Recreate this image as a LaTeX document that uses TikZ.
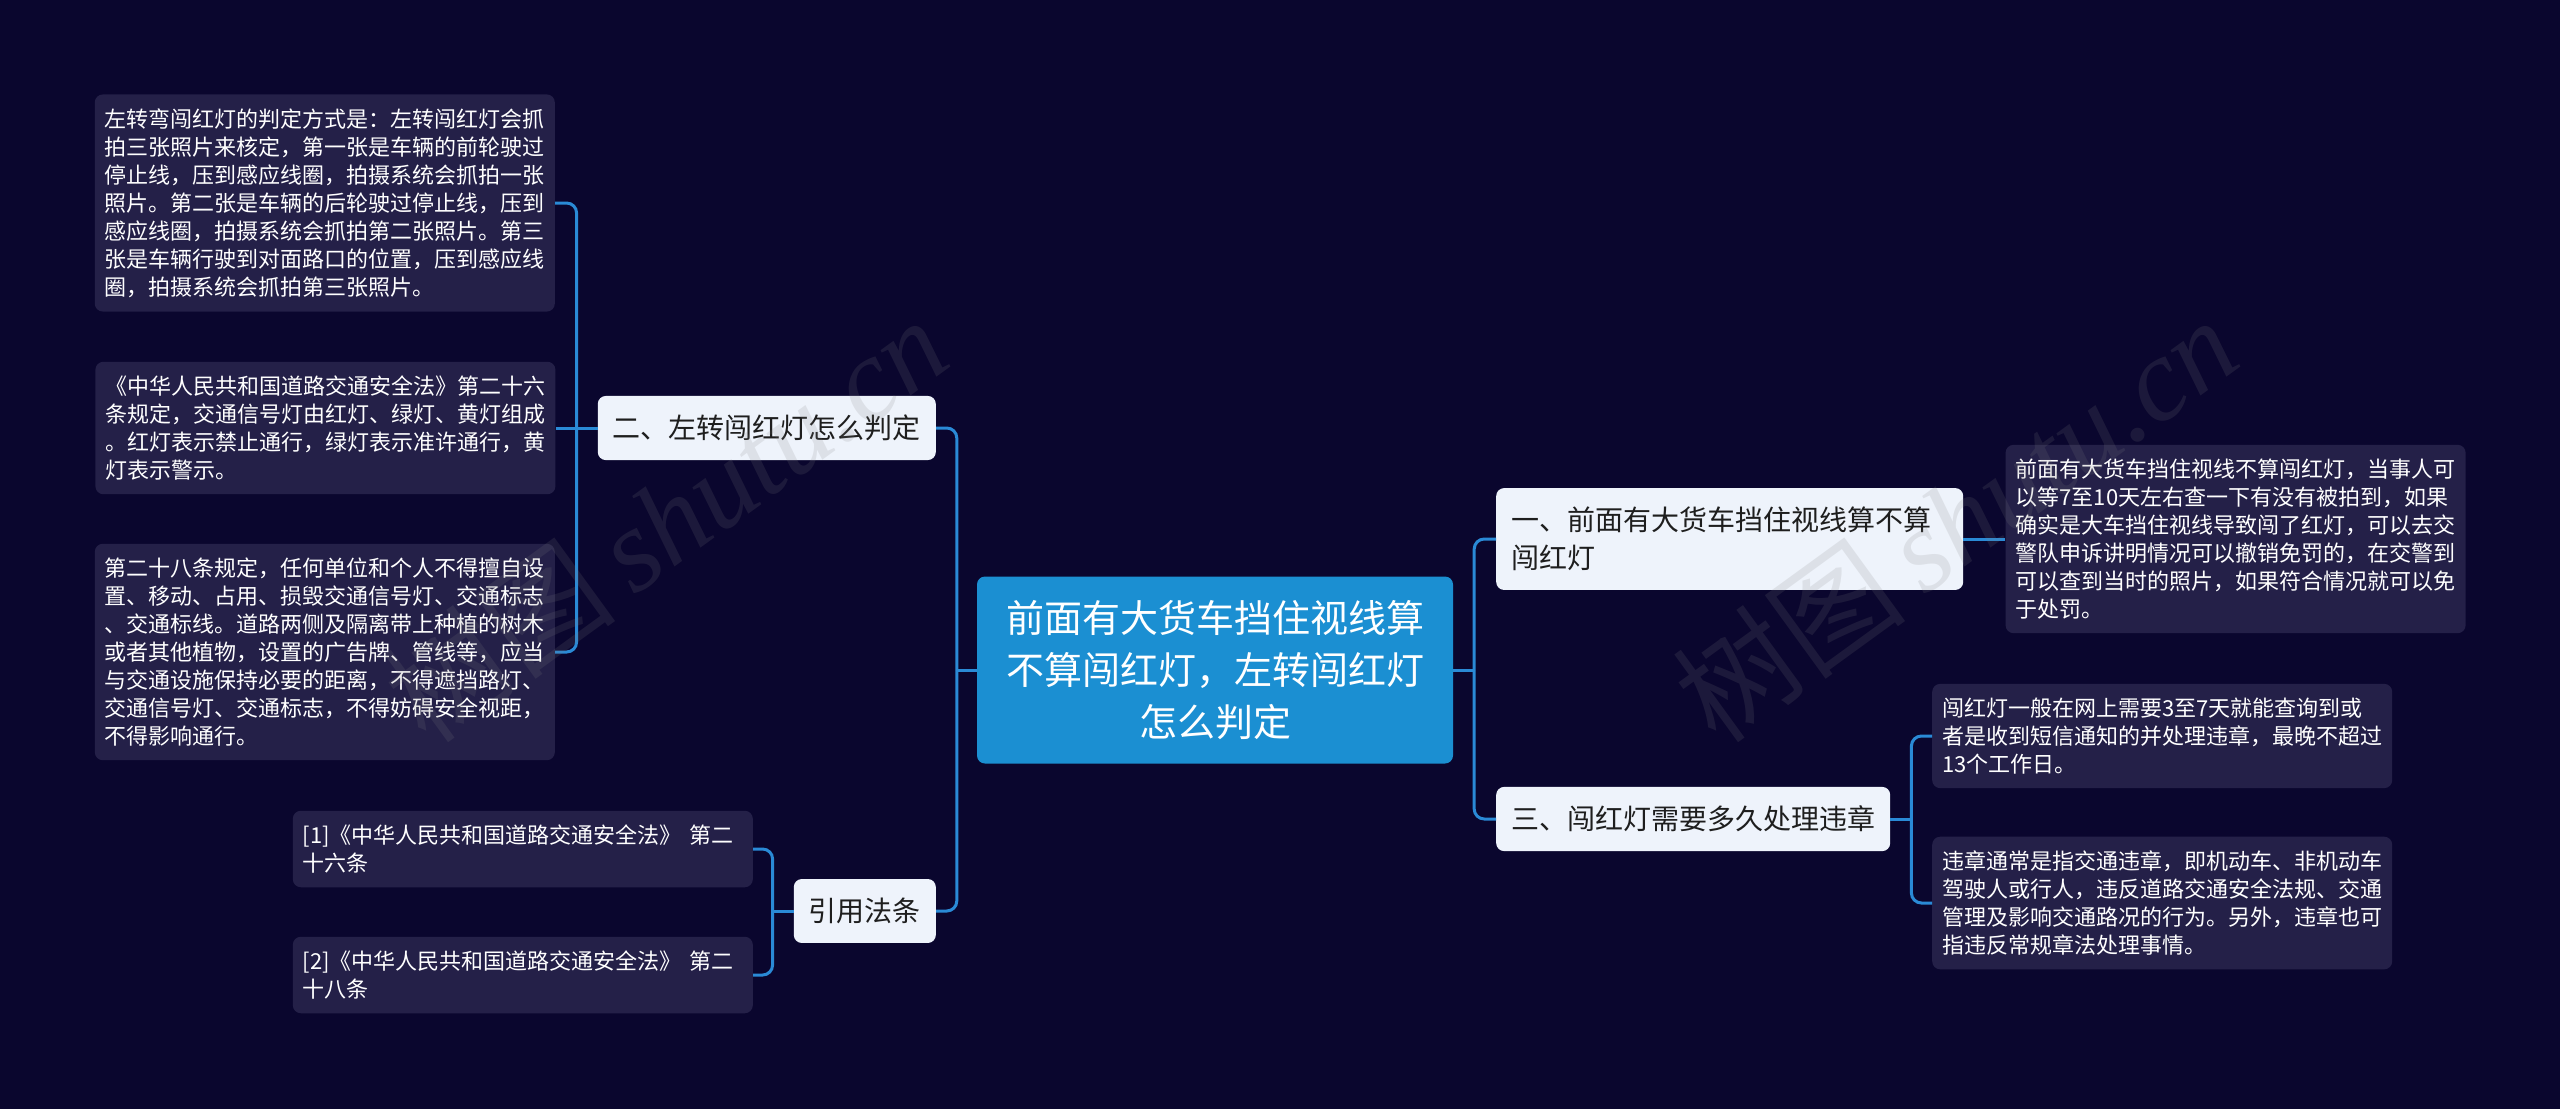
\documentclass[tikz,border=0pt]{standalone}
\usepackage{fontspec}
\setmainfont{Noto Sans CJK SC}
\newfontfamily\wmfont{Liberation Serif}
\usepackage{xcolor}
\definecolor{cBg}{HTML}{0A062E}
\definecolor{cRoot}{HTML}{1B8FD2}
\definecolor{cBranch}{HTML}{EEF3FB}
\definecolor{cLeaf}{HTML}{242048}
\definecolor{cLink}{HTML}{2A8AD6}
\definecolor{cInk}{HTML}{1E1E1E}
\usetikzlibrary{positioning}
\tikzset{
  node-root/.style={fill=cRoot,rounded corners=8pt,text=white,align=center,
    minimum width=476pt,minimum height=187pt,inner sep=0pt,
    font=\fontsize{38}{52}\selectfont},
  node-branch/.style={fill=cBranch,rounded corners=8pt,text=cInk,
    inner xsep=15pt,inner ysep=19pt,font=\fontsize{28}{38}\selectfont},
  node-leaf/.style={fill=cLeaf,rounded corners=8pt,text=white,align=left,
    text width=440pt,inner xsep=10pt,inner ysep=14pt,
    font=\fontsize{22}{28}\selectfont},
  link/.style={draw=cLink,line width=3pt,rounded corners=10pt},
  watermark/.style={text=gray,text opacity=.16,rotate=36,
    font=\fontsize{118}{118}\selectfont},
}

\begin{document}
\begin{tikzpicture}[x=1pt,y=-1pt,node distance=42pt]
  \fill[cBg] (0,0) rectangle (2560,1109);
  \useasboundingbox (0,0) rectangle (2560,1109);

  % 中心主题
  \node[node-root] (root) at (1215,670)
    {前面有大货车挡住视线算\\不算闯红灯，左转闯红灯\\怎么判定};

  % 右侧分支
  \node[node-branch,anchor=west,text width=437pt,align=left] (b1) at (1496,539)
    {一、前面有大货车挡住视线算不算\\闯红灯};
  \node[node-leaf,right=of b1] (r1)
    {前面有大货车挡住视线不算闯红灯，当事人可\\以等7至10天左右查一下有没有被拍到，如果\\确实是大车挡住视线导致闯了红灯，可以去交\\警队申诉讲明情况可以撤销免罚的，在交警到\\可以查到当时的照片，如果符合情况就可以免\\于处罚。};
  \node[node-branch,anchor=west] (b3) at (1496,819) {三、闯红灯需要多久处理违章};
  \node[node-leaf,anchor=west] (r2a) at (1932,736)
    {闯红灯一般在网上需要3至7天就能查询到或\\者是收到短信通知的并处理违章，最晚不超过\\13个工作日。};
  \node[node-leaf,anchor=west] (r2b) at (1932,903)
    {违章通常是指交通违章，即机动车、非机动车\\驾驶人或行人，违反道路交通安全法规、交通\\管理及影响交通路况的行为。另外，违章也可\\指违反常规章法处理事情。};

  % 左侧分支
  \node[node-branch,anchor=east] (b2) at (936,428) {二、左转闯红灯怎么判定};
  \node[node-leaf,anchor=east] (l1) at (555,203)
    {左转弯闯红灯的判定方式是：左转闯红灯会抓\\拍三张照片来核定，第一张是车辆的前轮驶过\\停止线，压到感应线圈，拍摄系统会抓拍一张\\照片。第二张是车辆的后轮驶过停止线，压到\\感应线圈，拍摄系统会抓拍第二张照片。第三\\张是车辆行驶到对面路口的位置，压到感应线\\圈，拍摄系统会抓拍第三张照片。};
  \node[node-leaf,left=of b2] (l2)
    {《中华人民共和国道路交通安全法》第二十六\\条规定，交通信号灯由红灯、绿灯、黄灯组成\\。红灯表示禁止通行，绿灯表示准许通行，黄\\灯表示警示。};
  \node[node-leaf,anchor=east] (l3) at (555,652)
    {第二十八条规定，任何单位和个人不得擅自设\\置、移动、占用、损毁交通信号灯、交通标志\\、交通标线。道路两侧及隔离带上种植的树木\\或者其他植物，设置的广告牌、管线等，应当\\与交通设施保持必要的距离，不得遮挡路灯、\\交通信号灯、交通标志，不得妨碍安全视距，\\不得影响通行。};
  \node[node-branch,anchor=east] (law) at (936,911) {引用法条};
  \node[node-leaf,anchor=east] (ref1) at (753,849)
    {[1]《中华人民共和国道路交通安全法》 第二\\十六条};
  \node[node-leaf,anchor=east] (ref2) at (753,975)
    {[2]《中华人民共和国道路交通安全法》 第二\\十八条};

  % 连线
  \coordinate (jl) at ([xshift=-20pt]root.west);
  \coordinate (jr) at ([xshift=21pt]root.east);
  \coordinate (j2) at ([xshift=-21pt]b2.west);
  \coordinate (j3) at ([xshift=21pt]b3.east);
  \coordinate (jf) at ([xshift=-21pt]law.west);
  \draw[link] (root.west) -- (jl);
  \draw[link] (jl) |- (b2.east);
  \draw[link] (jl) |- (law.east);
  \draw[link] (root.east) -- (jr);
  \draw[link] (jr) |- (b1.west);
  \draw[link] (jr) |- (b3.west);
  \draw[link] (b1.east) -- (r1.west);
  \draw[link] (b3.east) -- (j3);
  \draw[link] (j3) |- (r2a.west);
  \draw[link] (j3) |- (r2b.west);
  \draw[link] (b2.west) -- (l2.east);
  \draw[link] (j2) |- (l1.east);
  \draw[link] (j2) |- (l3.east);
  \draw[link] (law.west) -- (jf);
  \draw[link] (jf) |- (ref1.east);
  \draw[link] (jf) |- (ref2.east);

  % 水印
  \node[watermark] (wm1) at (665,519) {树图\,{\wmfont\itshape shutu.cn}};
  \node[watermark] (wm2) at (1955,519) {树图\,{\wmfont\itshape shutu.cn}};
\end{tikzpicture}
\end{document}
